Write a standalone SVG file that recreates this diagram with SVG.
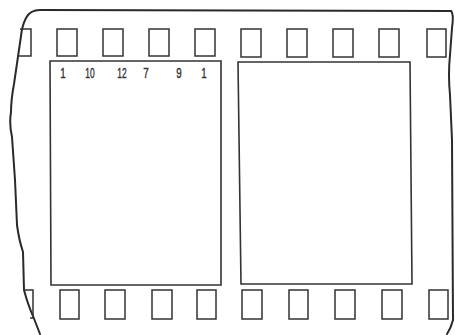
<svg xmlns="http://www.w3.org/2000/svg" width="455" height="335" viewBox="0 0 455 335">
<style>
.edge{fill:none;stroke:#2a2a2a;stroke-width:2;stroke-linecap:round;stroke-linejoin:round}
.hole{fill:none;stroke:#333;stroke-width:1.5}
.frame{fill:none;stroke:#333;stroke-width:1.6}
.num{font-family:"Liberation Sans",Arial,sans-serif;font-size:14px;fill:#333;stroke:#333;stroke-width:0.4;text-anchor:middle}
</style>
<rect width="455" height="335" fill="#fff"/>
<g id="film-edge">
<path class="edge" d="M451,11 L40,10 Q30,10 26,18 Q22,26 21,36 L14,84 Q11,100 11,112 Q9,124 12,137 L15,180 L17,225 Q19,240 23,252 L24,290 Q28,305 33,316 L40,334"/>
<path class="edge" d="M451,11 Q454,14 452,28 L450,55 Q448,75 450,95 L452,140 L453,320 Q451,328 447,334"/>
</g>
<g id="sprockets-top">
<path class="hole" d="M20,29 L31,29 L31,56 L17,56"/>
<rect class="hole" x="57" y="29" width="20" height="27"/>
<rect class="hole" x="103" y="29" width="20" height="27"/>
<rect class="hole" x="149" y="29" width="20" height="27"/>
<rect class="hole" x="195" y="29" width="20" height="27"/>
<rect class="hole" x="241" y="29" width="20" height="28"/>
<rect class="hole" x="287" y="29" width="20" height="28"/>
<rect class="hole" x="333" y="29" width="20" height="28"/>
<rect class="hole" x="379" y="29" width="20" height="28"/>
<rect class="hole" x="427" y="29" width="19" height="28"/>
</g>
<g id="sprockets-bottom">
<path class="hole" d="M24,290 L33,290 L33,318 L30,318"/>
<rect class="hole" x="60" y="290" width="19" height="29"/>
<rect class="hole" x="105" y="290" width="20" height="29"/>
<rect class="hole" x="152" y="290" width="20" height="29"/>
<rect class="hole" x="197" y="290" width="19" height="29"/>
<rect class="hole" x="242" y="290" width="20" height="29"/>
<rect class="hole" x="289" y="290" width="19" height="29"/>
<rect class="hole" x="335" y="290" width="20" height="29"/>
<rect class="hole" x="382" y="290" width="20" height="29"/>
<rect class="hole" x="429" y="290" width="19" height="29"/>
</g>
<g id="frame-left">
<path class="frame" d="M50,61 L221,61 L221,285 L51,285 Z"/>
<g transform="translate(0,78)">
<text class="num" transform="translate(63,0) scale(0.7,1)">1</text>
<text class="num" transform="translate(90,0) scale(0.6,1)">10</text>
<text class="num" transform="translate(122,0) scale(0.6,1)">12</text>
<text class="num" transform="translate(146,0) scale(0.7,1)">7</text>
<text class="num" transform="translate(179,0) scale(0.7,1)">9</text>
<text class="num" transform="translate(204,0) scale(0.7,1)">1</text>
</g>
</g>
<g id="frame-right">
<path class="frame" d="M238,62 L410,62 L412,284 L241,284 Z"/>
</g>
</svg>
